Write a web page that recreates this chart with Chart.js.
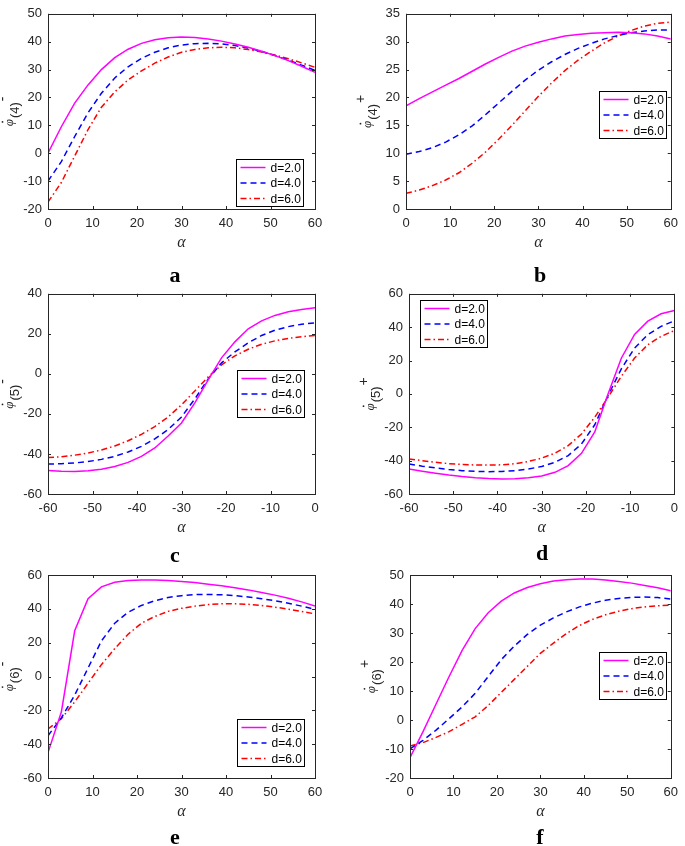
<!DOCTYPE html>
<html>
<head>
<meta charset="utf-8">
<script src="https://cdn.jsdelivr.net/npm/chart.js@4.4.1/dist/chart.umd.min.js"></script>
<style>
  body { margin: 0; background: #fff; width: 685px; height: 846px; position: relative; overflow: hidden; }
  canvas { position: absolute; }
  .letter { position: absolute; transform: translate(-50%, -50%); font: bold 22px 'Liberation Serif', 'Times New Roman', serif; color: #000; }
</style>
</head>
<body>
<canvas id="chartA" width="340" height="262" style="left:0;top:0"></canvas>
<canvas id="chartB" width="345" height="262" style="left:340px;top:0"></canvas>
<canvas id="chartC" width="340" height="262" style="left:0;top:280px"></canvas>
<canvas id="chartD" width="345" height="262" style="left:340px;top:280px"></canvas>
<canvas id="chartE" width="340" height="262" style="left:0;top:560px"></canvas>
<canvas id="chartF" width="345" height="262" style="left:340px;top:560px"></canvas>
<div class="letter" style="left:175px;top:275px">a</div>
<div class="letter" style="left:540px;top:275px">b</div>
<div class="letter" style="left:175px;top:555px">c</div>
<div class="letter" style="left:542px;top:553px">d</div>
<div class="letter" style="left:175px;top:837px">e</div>
<div class="letter" style="left:540px;top:837px">f</div>
<script>
// alpha samples (deg)
const alphaPos = [0, 3, 6, 9, 12, 15, 18, 21, 24, 27, 30, 33, 36, 39, 42, 45, 48, 51, 54, 57, 60];
const alphaNeg = [-60, -57, -54, -51, -48, -45, -42, -39, -36, -33, -30, -27, -24, -21, -18, -15, -12, -9, -6, -3, 0];
const legendLabels = ['d=2.0', 'd=4.0', 'd=6.0'];

// tick labels
const xTicksPos = [0, 10, 20, 30, 40, 50, 60];
const xTicksNeg = [-60, -50, -40, -30, -20, -10, 0];
const yTicksA = [-20, -10, 0, 10, 20, 30, 40, 50];
const yTicksB = [0, 5, 10, 15, 20, 25, 30, 35];
const yTicksC = [-60, -40, -20, 0, 20, 40];
const yTicksDE = [-60, -40, -20, 0, 20, 40, 60];
const yTicksF = [-20, -10, 0, 10, 20, 30, 40, 50];

// (a) phi(4)-
const a_d2 = [0, 9.5, 18, 24.5, 30, 34.3, 37.3, 39.4, 40.7, 41.4, 41.7, 41.5, 41, 40.2, 39.2, 38, 36.6, 35, 33.2, 31.2, 29];
const a_d4 = [-10, -3, 6, 14.5, 21.5, 27, 31, 34, 36.2, 37.8, 38.8, 39.3, 39.4, 39.2, 38.6, 37.7, 36.5, 35, 33.4, 31.6, 29.7];
const a_d6 = [-17.5, -10.5, -1, 8.5, 16.5, 22, 26.3, 29.5, 32.3, 34.5, 36.2, 37.2, 37.8, 38, 37.8, 37.2, 36.3, 35.2, 33.9, 32.4, 30.8];
// (b) phi(4)+
const b_d2 = [18.5, 19.8, 21, 22.2, 23.4, 24.7, 26, 27.2, 28.3, 29.2, 29.9, 30.5, 31, 31.3, 31.5, 31.6, 31.7, 31.6, 31.4, 31, 30.5];
const b_d4 = [9.8, 10.3, 11, 12, 13.3, 14.9, 16.9, 19, 21.1, 23.1, 24.9, 26.4, 27.7, 28.8, 29.7, 30.5, 31.1, 31.6, 31.9, 32.1, 32.1];
const b_d6 = [2.8, 3.4, 4.2, 5.2, 6.5, 8.2, 10.2, 12.5, 15, 17.6, 20.2, 22.6, 24.8, 26.7, 28.3, 29.8, 31, 32, 32.8, 33.3, 33.5];
// (c) phi(5)-
const c_d2 = [-48.3, -48.6, -48.7, -48.4, -47.6, -46.3, -44.2, -41.2, -37, -31, -24.5, -14.5, -3, 8, 16, 22.5, 26.5, 29.2, 31, 32.2, 33];
const c_d4 = [-45, -44.9, -44.5, -43.8, -42.7, -41.2, -39, -36.2, -32.5, -27.8, -21.5, -12.5, -2.5, 5.5, 11, 15.5, 19.2, 21.8, 23.6, 24.8, 25.5];
const c_d6 = [-41.8, -41.4, -40.6, -39.5, -38, -36, -33.4, -30.2, -26.3, -21.5, -15.5, -8.5, -1.5, 4.5, 9, 12.3, 14.8, 16.5, 17.7, 18.6, 19.2];
// (d) phi(5)+
const d_d2 = [-45, -46.3, -47.5, -48.6, -49.5, -50.2, -50.7, -51, -50.9, -50.3, -49.2, -47, -43, -35.6, -22.8, 0, 21.4, 35.6, 43.6, 48, 50];
const d_d4 = [-42, -43.3, -44.4, -45.3, -46, -46.4, -46.6, -46.5, -46, -45, -43.5, -41, -37, -30, -18.5, -1, 15, 27.5, 35.5, 40.5, 43.8];
const d_d6 = [-39, -40, -41, -41.8, -42.3, -42.6, -42.7, -42.5, -41.8, -40.5, -38.5, -35.5, -31, -24, -14, -2, 10.5, 21.5, 29.5, 34.5, 38];
// (e) phi(6)-
const e_d2 = [-45, -21, 27, 46, 53, 55.7, 56.7, 57, 57, 56.7, 56.2, 55.5, 54.6, 53.6, 52.5, 51.2, 49.7, 48.1, 46.2, 44.1, 41.7];
const e_d4 = [-35, -24.5, -11, 5, 21, 31.5, 38, 42, 44.8, 46.7, 47.8, 48.4, 48.5, 48.3, 47.8, 47, 46, 44.8, 43.3, 41.6, 39.7];
const e_d6 = [-31, -25, -15, -4, 7, 16.5, 25, 31.5, 35.5, 38.5, 40.3, 41.6, 42.5, 43, 43, 42.7, 42, 41, 39.8, 38.5, 37];
// (f) phi(6)+
const f_d2 = [-13, -4, 5.5, 15, 24, 31.5, 37, 41, 43.8, 45.7, 47, 47.9, 48.4, 48.6, 48.6, 48.3, 47.8, 47.2, 46.4, 45.6, 44.6];
const f_d4 = [-10, -7, -3.5, 0.5, 4.5, 9.2, 15, 20.8, 25.5, 29.5, 32.7, 35.2, 37.3, 39, 40.3, 41.3, 41.9, 42.3, 42.4, 42.2, 41.7];
const f_d6 = [-9, -7.8, -6, -4, -1.5, 1.1, 5, 9.5, 14, 18.5, 23, 26.5, 29.8, 32.6, 34.7, 36.3, 37.5, 38.4, 39, 39.4, 39.6];

const AXIS_COLOR = '#262626';
const TICK_FONT = { family: "'Liberation Sans', Arial, sans-serif", size: 13 };
const LINE_STYLES = [
  { color: '#ff00ff', dash: [] },
  { color: '#0000ff', dash: [6, 4] },
  { color: '#ff0000', dash: [6, 3, 1.5, 3] }
];

function toPoints(xs, ys) {
  return xs.map((x, i) => ({ x: x, y: ys[i] }));
}

// box, inward ticks, legend, axis titles (MATLAB look)
function framePlugin(p) {
  return {
    id: 'matlabFrame',
    afterDatasetsDraw(chart) {
      const ctx = chart.ctx;
      const a = chart.chartArea;
      const xs = chart.scales.x, ys = chart.scales.y;
      ctx.save();
      ctx.strokeStyle = AXIS_COLOR;
      ctx.lineWidth = 1;
      ctx.setLineDash([]);
      ctx.beginPath();
      xs.ticks.forEach(t => {
        const px = Math.round(xs.getPixelForValue(t.value)) + 0.5;
        ctx.moveTo(px, a.bottom); ctx.lineTo(px, a.bottom - 3);
        ctx.moveTo(px, a.top); ctx.lineTo(px, a.top + 3);
      });
      ys.ticks.forEach(t => {
        const py = Math.round(ys.getPixelForValue(t.value)) + 0.5;
        ctx.moveTo(a.left, py); ctx.lineTo(a.left + 3, py);
        ctx.moveTo(a.right, py); ctx.lineTo(a.right - 3, py);
      });
      ctx.stroke();
      ctx.strokeRect(Math.round(a.left) + 0.5, Math.round(a.top) + 0.5,
        Math.round(a.right - a.left), Math.round(a.bottom - a.top));

      // legend box
      const lx = Math.round(a.left + p.legend[0]) + 0.5;
      const ly = Math.round(a.top + p.legend[1]) + 0.5;
      const lw = 67, lh = 47;
      ctx.fillStyle = '#fff';
      ctx.fillRect(lx, ly, lw, lh);
      ctx.strokeStyle = '#000';
      ctx.strokeRect(lx, ly, lw, lh);
      ctx.font = "12px 'Liberation Sans', Arial, sans-serif";
      ctx.textBaseline = 'middle';
      ctx.textAlign = 'left';
      chart.data.datasets.forEach((ds, i) => {
        const ry = ly + 8 + i * 15.5;
        ctx.strokeStyle = ds.borderColor;
        ctx.lineWidth = 1.5;
        ctx.setLineDash(ds.borderDash);
        ctx.beginPath();
        ctx.moveTo(lx + 4, ry); ctx.lineTo(lx + 29, ry);
        ctx.stroke();
        ctx.setLineDash([]);
        ctx.fillStyle = '#000';
        ctx.fillText(ds.label, lx + 34, ry + 1);
      });

      // x title
      ctx.fillStyle = AXIS_COLOR;
      ctx.font = "italic 16px 'Liberation Serif', 'Times New Roman', serif";
      ctx.textAlign = 'center';
      ctx.fillText('\u03b1', (a.left + a.right) / 2, a.bottom + 34);

      // y title: phi-dot with subscript and superscript
      const phiFont = "italic 13px 'Liberation Serif', 'Times New Roman', serif";
      const subFont = "13px 'Liberation Sans', Arial, sans-serif";
      const supFont = "14px 'Liberation Sans', Arial, sans-serif";
      ctx.font = phiFont;
      const wPhi = ctx.measureText('\u03c6').width;
      ctx.font = subFont;
      const wSub = ctx.measureText(p.sub).width;
      ctx.font = supFont;
      const wSup = ctx.measureText(p.sup).width;
      const total = wPhi + 1 + wSub + 1 + wSup;
      ctx.translate(a.left - 35, (a.top + a.bottom) / 2 + total / 2);
      ctx.rotate(-Math.PI / 2);
      ctx.textAlign = 'left';
      ctx.textBaseline = 'alphabetic';
      ctx.font = phiFont;
      ctx.fillText('\u03c6', 0, 0);
      ctx.beginPath();
      ctx.arc(wPhi * 0.6, -10.5, 0.9, 0, Math.PI * 2);
      ctx.fill();
      ctx.font = subFont;
      ctx.fillText(p.sub, wPhi + 1, 6);
      ctx.font = supFont;
      ctx.fillText(p.sup, wPhi + 1 + wSub + 1, -6);
      ctx.restore();
    }
  };
}

function makePanel(id, p) {
  const ctx = document.getElementById(id).getContext('2d');
  const datasets = [p.d2, p.d4, p.d6].map((ys, i) => ({
    label: legendLabels[i],
    data: toPoints(p.x, ys),
    borderColor: LINE_STYLES[i].color,
    borderDash: LINE_STYLES[i].dash,
    borderWidth: 1.5,
    pointRadius: 0,
    tension: 0,
    fill: false
  }));
  return new Chart(ctx, {
    type: 'line',
    data: { datasets: datasets },
    options: {
      responsive: false,
      animation: false,
      events: [],
      layout: { padding: { left: 0, top: p.area.top, right: p.area.right, bottom: 0 } },
      plugins: { legend: { display: false }, tooltip: { enabled: false } },
      scales: {
        x: {
          type: 'linear',
          min: p.xTicks[0],
          max: p.xTicks[p.xTicks.length - 1],
          afterBuildTicks: s => { s.ticks = p.xTicks.map(v => ({ value: v })); },
          afterFit: s => { s.height = p.area.xh; },
          grid: { display: false, drawTicks: false },
          border: { display: false },
          ticks: { padding: 7, color: AXIS_COLOR, font: TICK_FONT, maxRotation: 0, autoSkip: false }
        },
        y: {
          type: 'linear',
          min: p.yTicks[0],
          max: p.yTicks[p.yTicks.length - 1],
          afterBuildTicks: s => { s.ticks = p.yTicks.map(v => ({ value: v })); },
          afterFit: s => { s.width = p.area.left; },
          grid: { display: false, drawTicks: false },
          border: { display: false },
          ticks: { padding: 6, color: AXIS_COLOR, font: TICK_FONT, autoSkip: false }
        }
      }
    },
    plugins: [framePlugin(p)]
  });
}

document.addEventListener('DOMContentLoaded', () => {
  makePanel('chartA', { x: alphaPos, d2: a_d2, d4: a_d4, d6: a_d6, xTicks: xTicksPos, yTicks: yTicksA,
    area: { left: 48, top: 6, right: 25, xh: 53 }, legend: [188, 145], sub: '(4)', sup: '-' });
  makePanel('chartB', { x: alphaPos, d2: b_d2, d4: b_d4, d6: b_d6, xTicks: xTicksPos, yTicks: yTicksB,
    area: { left: 66, top: 6, right: 8, xh: 53 }, legend: [193, 77], sub: '(4)', sup: '+' });
  makePanel('chartC', { x: alphaNeg, d2: c_d2, d4: c_d4, d6: c_d6, xTicks: xTicksNeg, yTicks: yTicksC,
    area: { left: 48, top: 12, right: 25, xh: 48 }, legend: [189, 76], sub: '(5)', sup: '-' });
  makePanel('chartD', { x: alphaNeg, d2: d_d2, d4: d_d4, d6: d_d6, xTicks: xTicksNeg, yTicks: yTicksDE,
    area: { left: 69, top: 12, right: 8, xh: 48 }, legend: [11, 6], sub: '(5)', sup: '+' });
  makePanel('chartE', { x: alphaPos, d2: e_d2, d4: e_d4, d6: e_d6, xTicks: xTicksPos, yTicks: yTicksDE,
    area: { left: 48, top: 15, right: 25, xh: 44 }, legend: [189, 144], sub: '(6)', sup: '-' });
  makePanel('chartF', { x: alphaPos, d2: f_d2, d4: f_d4, d6: f_d6, xTicks: xTicksPos, yTicks: yTicksF,
    area: { left: 70, top: 15, right: 8, xh: 44 }, legend: [189, 77], sub: '(6)', sup: '+' });
});
</script>
</body>
</html>
